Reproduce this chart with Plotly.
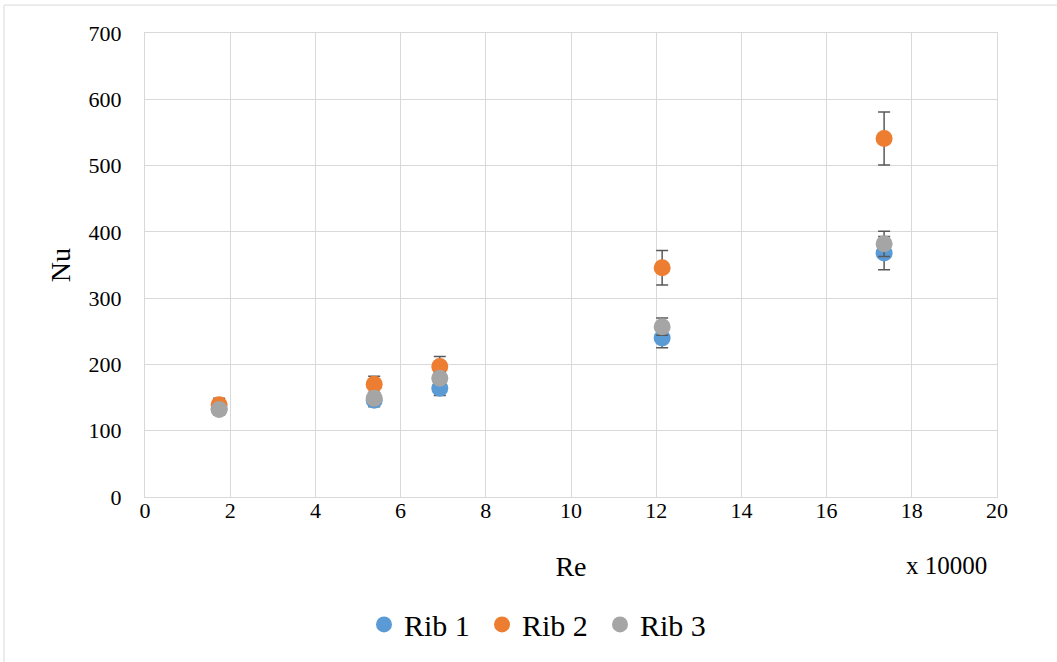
import plotly.graph_objects as go

re_values = [1.74, 5.38, 6.92, 12.14, 17.35]  # x 10000
series_names = ["Rib 1", "Rib 2", "Rib 3"]
nu_rib1 = [133, 146, 164, 240, 368]
nu_rib2 = [139, 170, 197, 346, 541]
nu_rib3 = [132, 149, 179, 257, 382]
err_rib1 = [9, 10, 11, 15, 25]
err_rib2 = [10, 12, 15, 26, 40]
err_rib3 = [7, 8, 9, 13, 19]
colors = ["#5B9BD5", "#ED7D31", "#A5A5A5"]
x_ticks = list(range(0, 21, 2))
y_ticks = list(range(0, 701, 100))

FONT = "'Times New Roman', 'Liberation Serif', serif"
L, R, T, B = 145, 60, 33, 163
W, H = 1057, 662
pw, ph = W - L - R, H - T - B

fig = go.Figure()
for name, ys, errs, c in zip(series_names, [nu_rib1, nu_rib2, nu_rib3],
                             [err_rib1, err_rib2, err_rib3], colors):
    fig.add_trace(go.Scatter(
        x=re_values, y=ys, mode="markers", name=name,
        marker=dict(color=c, size=17, line=dict(width=0)),
        error_y=dict(type="data", array=errs, visible=True,
                     color="#595959", thickness=1.5, width=6),
    ))

grid = "#D9D9D9"
fig.update_layout(
    width=W, height=H,
    margin=dict(l=L, r=R, t=T, b=B),
    paper_bgcolor="white", plot_bgcolor="white",
    font=dict(family=FONT, color="black", size=22),
    xaxis=dict(range=[0, 20], tickvals=x_ticks, showgrid=True, gridcolor=grid,
               gridwidth=1, zeroline=False, showline=True, linecolor=grid,
               mirror=True, ticks="", ticklabelstandoff=-6,
               tickfont=dict(size=22, family=FONT),
               title=dict(text="Re", font=dict(size=28, family=FONT), standoff=33)),
    yaxis=dict(range=[0, 700], tickvals=y_ticks, showgrid=True, gridcolor=grid,
               gridwidth=1, zeroline=False, showline=True, linecolor=grid,
               mirror=True, ticks="outside", ticklen=18, tickcolor="rgba(0,0,0,0)",
               tickfont=dict(size=22, family=FONT),
               title=dict(text="Nu", font=dict(size=28, family=FONT), standoff=9)),
    legend=dict(orientation="h", x=(541 - L) / pw, xanchor="center",
                y=(H - B - 627) / ph, yanchor="middle",
                font=dict(size=30, family=FONT), itemsizing="trace",
                entrywidth=73, entrywidthmode="pixels",
                bgcolor="rgba(0,0,0,0)"),
    showlegend=True,
    annotations=[dict(text="x 10000", xref="paper", yref="paper",
                      x=(946 - L) / pw, y=(H - B - 568) / ph,
                      xanchor="center", yanchor="middle", showarrow=False,
                      font=dict(size=25, family=FONT))],
    shapes=[dict(type="rect", xref="paper", yref="paper",
                 x0=(4 - L) / pw, x1=(1065 - L) / pw,
                 y0=(H - B - 670) / ph, y1=(H - B - 5) / ph,
                 line=dict(color=grid, width=1), layer="below")],
)

fig.write_html("out.html", config={"displayModeBar": False},
               post_script="document.body.style.margin='0';document.body.style.overflow='hidden';")
